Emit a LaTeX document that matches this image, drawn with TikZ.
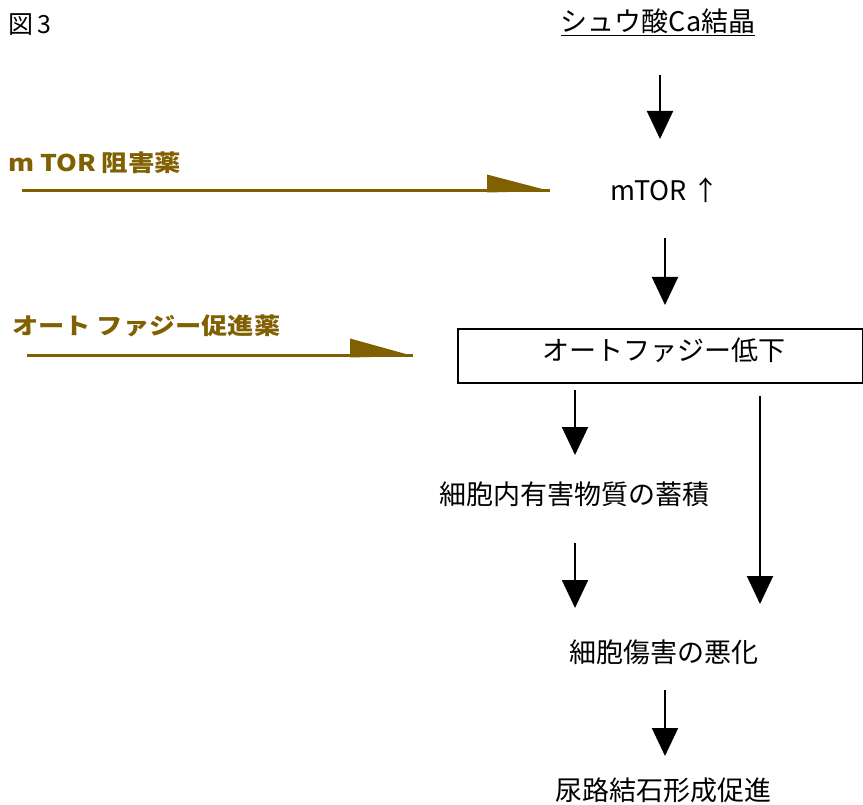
\documentclass[tikz,border=0pt]{standalone}
\usepackage{fontspec}
\usepackage{graphicx}
\setmainfont{Noto Sans CJK JP}
\usetikzlibrary{arrows.meta}
\definecolor{drug}{RGB}{128,96,0}
\tikzset{
  lbl/.style={inner sep=0pt, anchor=center, font=\fontsize{27}{30}\selectfont},
  druglbl/.style={inner sep=0pt, anchor=west, text=drug, font=\fontsize{23}{26}\selectfont\bfseries},
  flow/.style={line width=2pt, -{Triangle[width=26pt,length=28pt]}},
  drugline/.style={line width=3pt, drug},
  drughead/.style={fill=drug, draw=none},
  boxed/.style={draw, line width=2pt}
}
\begin{document}
\begin{tikzpicture}[x=1pt,y=-1pt]
\useasboundingbox (0,0) rectangle (863,805);
% labels
\node[lbl, anchor=west, font=\fontsize{25}{28}\selectfont] (fig) at (8,25) {図\,3};
\node[lbl] (cryst) at (658,22) {\underline{シュウ酸Ca結晶}};
\node[lbl] (mtor) at (665,190) {mTOR ↑};
\node[boxed, minimum width=405pt, minimum height=54pt, inner sep=0pt, anchor=north west] (auto) at (457,328) {};
\node[lbl] (autot) at (664,350) {オートファジー低下};
\node[lbl] (accum) at (574,494) {細胞内有害物質の蓄積};
\node[lbl] (damage) at (664,652) {細胞傷害の悪化};
\node[lbl] (stone) at (663,790) {尿路結石形成促進};
\node[druglbl] (inh) at (8,163) {\scalebox{1.15}[1]{m TOR 阻害薬}};
\node[druglbl] (prom) at (12,326) {\scalebox{1.14}[1]{オート ファジー促進薬}};
% black arrows
\coordinate (a1s) at (660,75);  \coordinate (a1e) at (660,139);
\coordinate (a2s) at (665,238); \coordinate (a2e) at (665,305);
\coordinate (a3s) at (575,390); \coordinate (a3e) at (575,455);
\coordinate (a4s) at (575,543); \coordinate (a4e) at (575,608);
\coordinate (a5s) at (760,396); \coordinate (a5e) at (760,604);
\coordinate (a6s) at (665,690); \coordinate (a6e) at (665,756);
\draw[flow] (a1s) -- (a1e);
\draw[flow] (a2s) -- (a2e);
\draw[flow] (a3s) -- (a3e);
\draw[flow] (a4s) -- (a4e);
\draw[flow] (a5s) -- (a5e);
\draw[flow] (a6s) -- (a6e);
% drug arrows
\coordinate (d1s) at (22,191); \coordinate (d1e) at (550,191);
\coordinate (d2s) at (27,356); \coordinate (d2e) at (413,356);
\draw[drugline] (d1s) -- (d1e);
\fill[drughead] (487,174.5) -- (487,192.5) -- (d1e) -- cycle;
\draw[drugline] (d2s) -- (d2e);
\fill[drughead] (350,338.5) -- (350,357.5) -- (d2e) -- cycle;
\end{tikzpicture}
\end{document}
